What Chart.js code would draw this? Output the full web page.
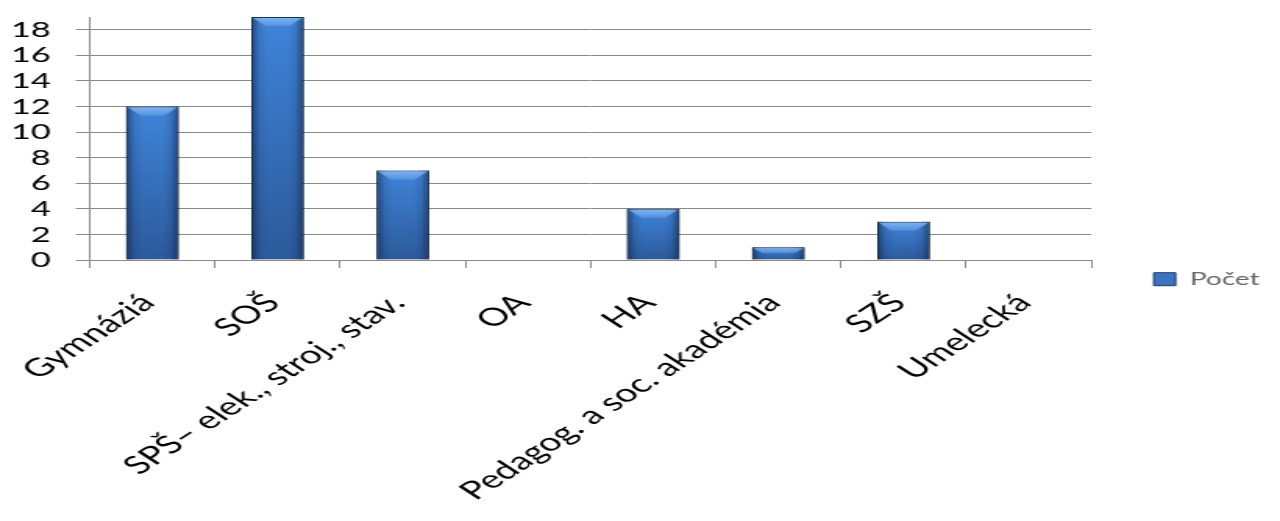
<!DOCTYPE html>
<html>
<head>
<meta charset="utf-8">
<script src="https://cdn.jsdelivr.net/npm/chart.js@4.4.1/dist/chart.umd.min.js"></script>
<style>
  html, body { margin: 0; padding: 0; background: #fff; overflow: hidden; }
  /* the original picture is stretched sideways, so the canvas is too */
  #graf { display: block; width: 1280px; height: 521px; }
</style>
</head>
<body>
<canvas id="graf" width="820" height="521" style="width:1280px;height:521px"></canvas>
<script>
/* ---- Data ---- */
const skoly   = ["Gymnáziá", "SOŠ", "SPŠ– elek., stroj., stav.", "OA", "HA",
                 "Pedagog. a soc. akadémia", "SZŠ", "Umelecká"];
const pocet   = [12, 19, 7, 0, 4, 1, 3, 0];
const yTicky  = [0, 2, 4, 6, 8, 10, 12, 14, 16, 18];
const nazovSerie = "Počet";

const PISMO = "Lato, 'Open Sans', sans-serif";

/* ---- fill of each bar: lighter on top, darker at the base ---- */
function farbaStlpca(ctx) {
  const chart = ctx.chart;
  const ys = chart.scales.y;
  if (!ys || ctx.dataIndex === undefined) return "#3a74c0";
  const vrch = ys.getPixelForValue(ctx.raw || 0);
  const spodok = ys.getPixelForValue(0);
  if (spodok - vrch < 1) return "#3a74c0";
  const g = chart.ctx.createLinearGradient(0, vrch, 0, spodok);
  g.addColorStop(0, "#3f84d9");
  g.addColorStop(1, "#2c5a9b");
  return g;
}

/* ---- 3D look: shadow, dark sides and a light bevel on top ---- */
const efekt3d = {
  id: "efekt3d",
  beforeDatasetsDraw(chart) {
    const c = chart.ctx;
    c.save();
    c.shadowColor = "rgba(0,0,0,0.35)";
    c.shadowBlur = 6;
    c.shadowOffsetX = 2;
  },
  afterDatasetsDraw(chart) {
    const c = chart.ctx;
    c.restore();
    chart.getDatasetMeta(0).data.forEach(bar => {
      const { x, y, base, width } = bar.getProps(["x", "y", "base", "width"], true);
      const h = base - y;
      if (h < 1) return;
      const l = x - width / 2, r = x + width / 2;
      c.save();
      const g = c.createLinearGradient(l, 0, r, 0);
      g.addColorStop(0.00, "rgba(10,25,55,0.55)");
      g.addColorStop(0.16, "rgba(10,25,55,0.10)");
      g.addColorStop(0.30, "rgba(10,25,55,0)");
      g.addColorStop(0.70, "rgba(10,25,55,0)");
      g.addColorStop(0.84, "rgba(10,25,55,0.10)");
      g.addColorStop(1.00, "rgba(10,25,55,0.55)");
      c.fillStyle = g;
      c.fillRect(l, y, width, h);
      const b = Math.min(9, h / 2);
      const lesk = c.createLinearGradient(0, y, 0, y + b);
      lesk.addColorStop(0, "rgba(150,200,255,0.75)");
      lesk.addColorStop(1, "rgba(150,200,255,0.25)");
      c.beginPath();
      c.moveTo(l + 1, y + 1);
      c.lineTo(r - 1, y + 1);
      c.lineTo(r - 1 - b * 0.9, y + b);
      c.lineTo(l + 1 + b * 0.9, y + b);
      c.closePath();
      c.fillStyle = lesk;
      c.fill();
      c.restore();
    });
  }
};

const ctx = document.getElementById("graf").getContext("2d");

new Chart(ctx, {
  type: "bar",
  data: {
    labels: skoly,
    datasets: [{
      label: nazovSerie,
      data: pocet,
      backgroundColor: farbaStlpca,
      borderColor: "#1c3d6b",
      borderWidth: 1,
      barPercentage: 0.42,
      categoryPercentage: 1.0,
    }],
  },
  options: {
    responsive: false,
    animation: false,
    devicePixelRatio: 1,
    layout: { padding: { top: 17, right: 3, bottom: 18, left: 0 } },
    plugins: {
      tooltip: { enabled: false },
      legend: {
        position: "right",
        title: { display: true, text: "", padding: 12 },
        labels: {
          color: "#000",
          font: { family: PISMO, size: 18 },
          boxWidth: 14,
          boxHeight: 13,
          padding: 40,
          generateLabels(chart) {
            return [{
              text: nazovSerie,
              fillStyle: "#3a74c0",
              strokeStyle: "#1c3d6b",
              lineWidth: 1,
              datasetIndex: 0,
            }];
          },
        },
      },
    },
    scales: {
      x: {
        offset: true,
        afterFit(scale) {
          // rotated labels may hang past the axis ends, like in the original
          scale.paddingLeft = 0;
          scale.paddingRight = 0;
        },
        grid: {
          display: true,
          drawOnChartArea: false,
          drawTicks: true,
          tickLength: 8,
          color: "#8a8a8a",
          offset: true,
        },
        border: { color: "#8a8a8a", width: 1 },
        ticks: {
          autoSkip: false,
          minRotation: 45,
          maxRotation: 45,
          padding: 20,
          labelOffset: -3,
          color: "#000",
          font: { family: PISMO, size: 25 },
        },
      },
      y: {
        min: 0,
        max: 19,
        afterBuildTicks(scale) {
          scale.ticks = yTicky.map(v => ({ value: v }));
        },
        afterFit(scale) {
          scale.paddingTop = 0;
          scale.paddingBottom = 0;
          // Chart.js reserves the label padding twice, drop most of the spare one
          scale.width -= 9;
        },
        grid: {
          color: "#8a8a8a",
          lineWidth: 1,
          drawTicks: true,
          tickLength: 9,
        },
        border: { color: "#8a8a8a", width: 1 },
        ticks: {
          autoSkip: false,
          padding: 16,
          color: "#000",
          font: { family: PISMO, size: 22, lineHeight: 1 },
        },
      },
    },
  },
  plugins: [efekt3d],
});
</script>
</body>
</html>
